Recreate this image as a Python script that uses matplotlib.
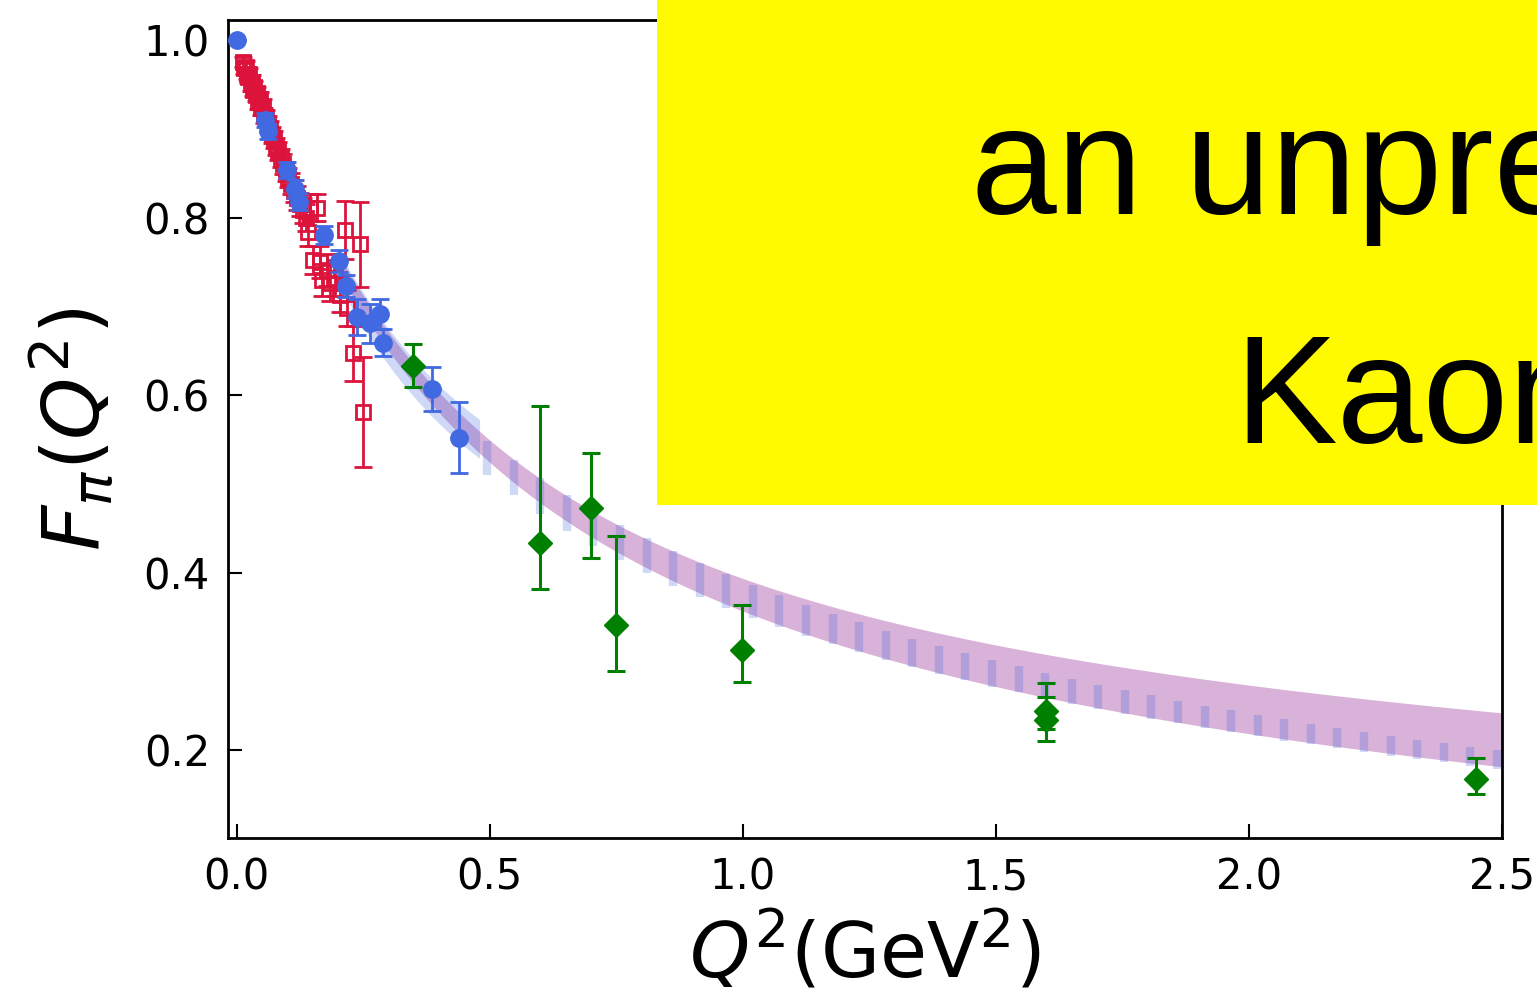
import numpy as np
import matplotlib.pyplot as plt
from matplotlib.patches import Rectangle

# lattice points (blue circles)
blue_q2 = [0.0, 0.056, 0.062, 0.099, 0.116, 0.124, 0.173, 0.202, 0.216,
           0.238, 0.263, 0.283, 0.289, 0.386, 0.440]
blue_ff = [1.0, 0.910, 0.897, 0.853, 0.832, 0.818, 0.780, 0.751, 0.723,
           0.688, 0.681, 0.691, 0.659, 0.607, 0.552]
blue_err = [0.0, 0.008, 0.008, 0.009, 0.010, 0.010, 0.010, 0.012, 0.012,
            0.020, 0.022, 0.017, 0.015, 0.025, 0.040]

# spacelike scattering data (red open squares)
red_q2 = [0.012, 0.015, 0.018, 0.020, 0.023, 0.025, 0.028, 0.030, 0.033, 0.035,
          0.038, 0.040, 0.043, 0.046, 0.049, 0.052, 0.055, 0.058, 0.062, 0.066,
          0.070, 0.074, 0.078, 0.082, 0.087, 0.092, 0.097, 0.102, 0.108, 0.114,
          0.120, 0.126, 0.132, 0.138,
          0.145, 0.159, 0.141, 0.151, 0.165, 0.179, 0.169, 0.194, 0.185, 0.204,
          0.218, 0.214, 0.244, 0.230, 0.250]
red_ff = [0.975, 0.968, 0.970, 0.962, 0.958, 0.962, 0.950, 0.953, 0.944, 0.947,
          0.938, 0.940, 0.930, 0.933, 0.923, 0.925, 0.915, 0.912, 0.905, 0.900,
          0.893, 0.888, 0.880, 0.875, 0.867, 0.860, 0.852, 0.845, 0.838, 0.830,
          0.822, 0.815, 0.808, 0.800,
          0.811, 0.811, 0.784, 0.752, 0.750, 0.741, 0.730, 0.732, 0.726, 0.713,
          0.698, 0.786, 0.770, 0.647, 0.581]
red_err = [0.006, 0.006, 0.006, 0.006, 0.006, 0.006, 0.007, 0.007, 0.007, 0.007,
           0.007, 0.007, 0.008, 0.008, 0.008, 0.008, 0.008, 0.009, 0.009, 0.009,
           0.009, 0.010, 0.010, 0.010, 0.010, 0.011, 0.011, 0.011, 0.012, 0.012,
           0.013, 0.013, 0.014, 0.015,
           0.015, 0.015, 0.016, 0.016, 0.018, 0.018, 0.018, 0.020, 0.020, 0.020,
           0.020, 0.033, 0.048, 0.031, 0.062]

# electroproduction points (green diamonds), asymmetric errors
green_q2 = [0.348, 0.599, 0.700, 0.750, 0.999, 1.600, 1.600, 2.449]
green_ff = [0.633, 0.433, 0.473, 0.341, 0.313, 0.244, 0.234, 0.167]
green_up = [0.024, 0.155, 0.062, 0.100, 0.050, 0.032, 0.026, 0.024]
green_dn = [0.024, 0.052, 0.057, 0.052, 0.036, 0.020, 0.024, 0.016]

# prediction band (purple)
band_q2 = [0.2, 0.3, 0.4, 0.5, 0.6, 0.75, 1.0, 1.25, 1.5, 1.75, 2.0, 2.25, 2.5]
band_hi = [0.758, 0.665, 0.606, 0.562, 0.506, 0.452, 0.386, 0.349, 0.321,
           0.296, 0.274, 0.256, 0.241]
band_lo = [0.738, 0.645, 0.585, 0.534, 0.476, 0.420, 0.352, 0.311, 0.272,
           0.243, 0.219, 0.198, 0.181]

# fit band (blue), continuous part and striped part
fit_q2 = [0.2, 0.3, 0.4, 0.48]
fit_hi = [0.764, 0.674, 0.612, 0.572]
fit_lo = [0.728, 0.632, 0.570, 0.528]
stripe_q2 = [0.49, 0.65, 0.97, 1.43, 1.55, 2.07, 2.5]
stripe_hi = [0.553, 0.487, 0.392, 0.322, 0.290, 0.230, 0.201]
stripe_lo = [0.513, 0.450, 0.352, 0.292, 0.261, 0.206, 0.180]


def smooth_edge(q, f, grid, deg=3):
    c = np.polyfit(np.log1p(q), np.log(f), deg)
    return np.exp(np.polyval(c, np.log1p(grid)))


fig = plt.figure(figsize=(15.37, 9.97), dpi=100)
ax = fig.add_axes([228 / 1537, 159 / 997, 1274 / 1537, 818 / 997])

qq = np.linspace(band_q2[0], band_q2[-1], 300)
ax.fill_between(qq, smooth_edge(band_q2, band_lo, qq), smooth_edge(band_q2, band_hi, qq),
                color='purple', alpha=0.3, lw=0, zorder=1)

qf = np.linspace(fit_q2[0], fit_q2[-1], 60)
ax.fill_between(qf, smooth_edge(fit_q2, fit_lo, qf, 2), smooth_edge(fit_q2, fit_hi, qf, 2),
                color='royalblue', alpha=0.25, lw=0, zorder=1)

sx = np.arange(0.495, 2.51, 0.0525)
ax.vlines(sx, smooth_edge(stripe_q2, stripe_lo, sx), smooth_edge(stripe_q2, stripe_hi, sx),
          colors='royalblue', alpha=0.25, linewidth=6, zorder=1)

ax.errorbar(red_q2, red_ff, yerr=red_err, fmt='s', ms=10, mfc='none', mec='crimson',
            mew=2, color='crimson', ecolor='crimson', elinewidth=2,
            capsize=6.5, capthick=2, zorder=3)
ax.errorbar(blue_q2, blue_ff, yerr=blue_err, fmt='o', ms=12.5, color='royalblue',
            ecolor='royalblue', elinewidth=2, capsize=6.5, capthick=2, zorder=4)
ax.errorbar(green_q2, green_ff, yerr=[green_dn, green_up], fmt='D', ms=12,
            color='green', ecolor='green', elinewidth=2.2, capsize=6.5,
            capthick=2.2, zorder=5)

ax.set_xlim(-0.017, 2.5)
ax.set_ylim(0.101, 1.0225)
ax.set_xticks([0.0, 0.5, 1.0, 1.5, 2.0, 2.5])
ax.set_yticks([0.2, 0.4, 0.6, 0.8, 1.0])
ax.tick_params(direction='in', length=10, width=1.5, labelsize=30, pad=13)
for s in ax.spines.values():
    s.set_linewidth(2.0)

ax.set_xlabel(r'$Q^2(\mathrm{GeV}^2)$', fontsize=55, labelpad=9)
ax.set_ylabel(r'$F_\pi(Q^2)$', fontsize=57, labelpad=20)

# highlight box on top
fig.add_artist(Rectangle((657 / 1537, 1 - 505 / 997), 1.0, 0.6,
                         transform=fig.transFigure, facecolor='#fffa00',
                         edgecolor='none', zorder=10))
fig.text(971 / 1537, 1 - 214 / 997, 'an unprecedented', fontsize=111,
         family='Liberation Sans', va='baseline', ha='left', zorder=11)
fig.text(1234 / 1537, 1 - 443 / 997, 'Kaon', fontsize=111,
         family='Liberation Sans', va='baseline', ha='left', zorder=11)

fig.savefig('out.png', dpi=100)
